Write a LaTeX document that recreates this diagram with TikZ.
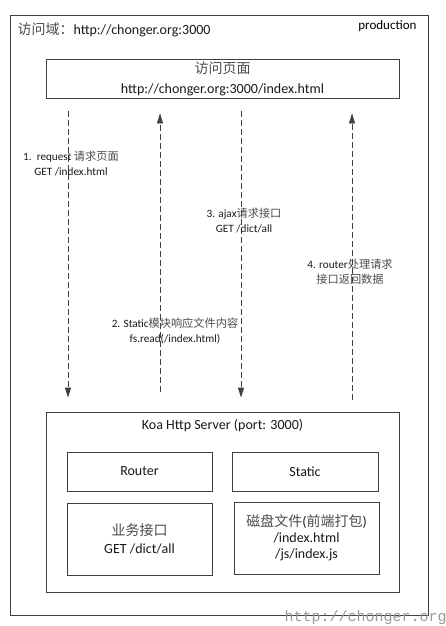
\documentclass[tikz,border=0pt]{standalone}
\usepackage{fontspec}
\setmainfont{Carlito}
\setmonofont{Liberation Mono}
\newfontfamily\cjk{Noto Sans CJK SC}
\usepackage{xcolor}
\usetikzlibrary{positioning}
\usetikzlibrary{arrows.meta}
\usetikzlibrary{shadows}

\newcommand{\zh}[1]{{\cjk\color{black!70}#1}}
\colorlet{framegray}{black!75}

\tikzset{
  box/.style={draw=framegray, fill=white, line width=0.8pt, inner sep=0pt, align=center,
    drop shadow={shadow xshift=1.3pt, shadow yshift=-1.3pt, fill=black!35}},
  flow/.style={framegray, line width=0.8pt, dash pattern=on 6pt off 3pt,
    -{Triangle[length=10pt,width=6pt]}},
  flowlabel/.style={font=\fontsize{11.2}{15}\selectfont, align=center, text=black!90},
  boxtext/.style={font=\fontsize{14}{18}\selectfont, text=black!90},
}

\begin{document}
\begin{tikzpicture}[x=1pt, y=-1pt]

\useasboundingbox (0,0) rectangle (446,626);

% frame
\node[box, minimum width=418pt, minimum height=600pt] (frame) at (219,315) {};

\node[anchor=west, boxtext] (domain) at (14,30) {\zh{访问域：}http://chonger.org:3000};
\node[anchor=east, font=\fontsize{13}{13}\selectfont] (env) at (420,26) {production};

% page
\node[box, boxtext, minimum width=353pt, minimum height=39pt, font=\fontsize{14}{20}\selectfont] (page) at (222.5,78.5)
{\zh{访问页面}\\ http://chonger.org:3000/index.html};

% server
\node[box, minimum width=353pt, minimum height=180pt] (server) at (222.5,502) {};
\node[boxtext] (koa) at (222.5,426) {Koa Http Server (port: 3000)};

\node[box, boxtext, minimum width=145pt, minimum height=39pt] (router) at (139.5,471.5) {Router};
\node[box, boxtext, minimum width=146pt, minimum height=39pt] (static) at (305,471.5) {Static};
\node[box, boxtext, minimum width=145pt, minimum height=72pt] (api) at (139.5,539)
{\zh{业务接口}\\ GET /dict/all};
\node[box, boxtext, minimum width=145pt, minimum height=72pt, font=\fontsize{14}{16}\selectfont] (disk) at (306.5,538)
{\zh{磁盘文件}(\zh{前端打包})\\ /index.html\\ /js/index.js};

% arrows
\coordinate (reqx) at (68,0);
\coordinate (resx) at (160,0);
\coordinate (ajaxx) at (241,0);
\coordinate (datax) at (352,0);

\draw[flow, shorten <=13pt, shorten >=14pt] (page.south -| reqx) -- (server.north -| reqx);
\draw[flow, shorten <=20pt, shorten >=15pt] (server.north -| resx) -- (page.south -| resx);
\draw[flow, shorten <=13pt, shorten >=14pt] (page.south -| ajaxx) -- (server.north -| ajaxx);
\draw[flow, shorten <=12pt, shorten >=15pt] (server.north -| datax) -- (page.south -| datax);

% nodes
\node[flowlabel] (req) at (71,163.5) {1.\ \ request \zh{请求页面}\\ GET /index.html};
\node[flowlabel] (res) at (175,331.5) {2. Static\zh{模块响应文件内容}\\ fs.read(/index.html)};
\node[flowlabel] (ajax) at (244,220.5) {3. ajax\zh{请求接口}\\ GET /dict/all};
\node[flowlabel] (data) at (350,271.5) {4. router\zh{处理请求}\\ \zh{接口返回数据}};

\node[anchor=west, font=\ttfamily\fontsize{15}{15}\selectfont, text=black!40] (mark) at (281,618) {http://chonger.org};

\end{tikzpicture}
\end{document}
